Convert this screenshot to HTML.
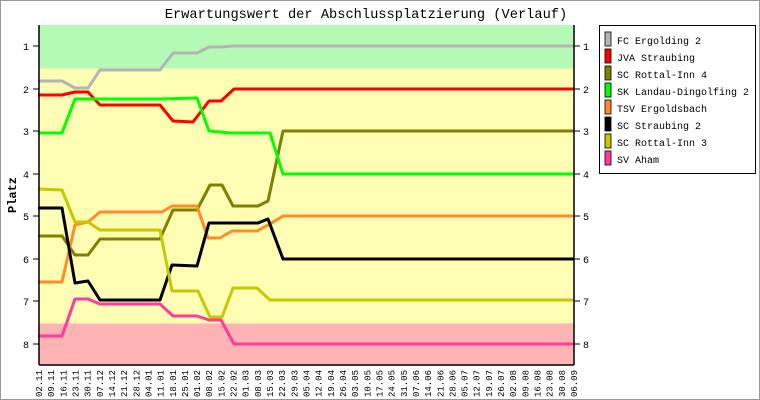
<!DOCTYPE html>
<html><head><meta charset="utf-8"><style>
html,body{margin:0;padding:0;background:#fff}
svg{display:block}
text{font-family:"Liberation Mono","DejaVu Sans Mono",monospace}
</style></head><body>
<svg width="760" height="400" viewBox="0 0 760 400">
<rect x="0.5" y="0.5" width="759" height="399" fill="#fff" stroke="#999"/>
<text x="366" y="18" font-size="13.7" text-anchor="middle">Erwartungswert der Abschlussplatzierung (Verlauf)</text>
<rect x="39" y="25" width="535" height="43.5" fill="#b4fab4"/>
<rect x="39" y="68.5" width="535" height="255" fill="#fdfdb4"/>
<rect x="39" y="323.5" width="535" height="41.5" fill="#feb4b4"/>
<g fill="none" stroke-width="3" stroke-linejoin="round">
<polyline stroke="#b4b4b4" points="38,81 62,81 75,88 88,88 100,70 160,70 173,53 197,53 209,47 221,47 233,46 574,46"/>
<polyline stroke="#ff0000" points="38,95 62,95 75,92 88,92 100,105 160,105 173,121 193,122 209,101 221,101 234,89 574,89"/>
<polyline stroke="#808000" points="38,236 62,236 75,255 88,255 100,239 160,239 173,210 197,210 210,185 222,185 233,206 258,206 268,201 283,131 574,131"/>
<polyline stroke="#00ff00" points="38,133 62,133 75,99 160,99 197,98 209,131 230,133 270,133 283,174 574,174"/>
<polyline stroke="#ff8c28" points="38,282 62,282 75,225 88,222 100,212 162,212 172,206 197,206 208,238 220,238 232,231 257,231 270,224 283,216 574,216"/>
<polyline stroke="#000000" points="38,208 62,208 75,283 88,281 100,300 160,300 172,265 197,266 209,223 258,223 268,219 283,259 574,259"/>
<polyline stroke="#c8c800" points="38,189 62,190 75,222 88,222 100,230 160,230 172,291 198,291 210,317 222,317 233,288 257,288 270,300 574,300"/>
<polyline stroke="#ff3c9c" points="38,336 62,336 75,299 88,299 100,304 160,304 173,316 197,316 209,320 221,320 234,344 574,344"/>
</g>
<g stroke="#000" stroke-width="1.5">
<line x1="39" y1="25" x2="39" y2="365"/><line x1="574" y1="25" x2="574" y2="365"/><line x1="39" y1="365" x2="574" y2="365"/>
</g>
<g stroke="#000" stroke-width="1">
<line x1="33" y1="46" x2="39" y2="46"/><line x1="33" y1="89" x2="39" y2="89"/><line x1="33" y1="131" x2="39" y2="131"/><line x1="33" y1="174" x2="39" y2="174"/><line x1="33" y1="216" x2="39" y2="216"/><line x1="33" y1="259" x2="39" y2="259"/><line x1="33" y1="301" x2="39" y2="301"/><line x1="33" y1="344" x2="39" y2="344"/>
<line x1="574" y1="46" x2="580" y2="46"/><line x1="574" y1="89" x2="580" y2="89"/><line x1="574" y1="131" x2="580" y2="131"/><line x1="574" y1="174" x2="580" y2="174"/><line x1="574" y1="216" x2="580" y2="216"/><line x1="574" y1="259" x2="580" y2="259"/><line x1="574" y1="301" x2="580" y2="301"/><line x1="574" y1="344" x2="580" y2="344"/>
</g>
<g font-size="10" text-anchor="middle">
<text x="26" y="50">1</text><text x="26" y="93">2</text><text x="26" y="135">3</text><text x="26" y="178">4</text><text x="26" y="220">5</text><text x="26" y="263">6</text><text x="26" y="305">7</text><text x="26" y="348">8</text>
<text x="586" y="50">1</text><text x="586" y="93">2</text><text x="586" y="135">3</text><text x="586" y="178">4</text><text x="586" y="220">5</text><text x="586" y="263">6</text><text x="586" y="305">7</text><text x="586" y="348">8</text>
</g>
<text transform="translate(16,195) rotate(-90)" font-size="12" font-weight="bold" text-anchor="middle">Platz</text>
<rect x="599.5" y="25.5" width="156" height="148" fill="#fff" stroke="#000"/>
<g stroke="#000" stroke-width="0.8">
<rect x="605" y="32" width="6" height="14" fill="#b4b4b4"/>
<rect x="605" y="49" width="6" height="14" fill="#ff0000"/>
<rect x="605" y="66" width="6" height="14" fill="#808000"/>
<rect x="605" y="83" width="6" height="14" fill="#00ff00"/>
<rect x="605" y="100" width="6" height="14" fill="#ff8c28"/>
<rect x="605" y="117" width="6" height="14" fill="#000000"/>
<rect x="605" y="134" width="6" height="14" fill="#c8c800"/>
<rect x="605" y="151" width="6" height="14" fill="#ff3c9c"/>
</g>
<g font-size="10">
<text x="617" y="44">FC Ergolding 2</text>
<text x="617" y="61">JVA Straubing</text>
<text x="617" y="78">SC Rottal-Inn 4</text>
<text x="617" y="95">SK Landau-Dingolfing 2</text>
<text x="617" y="112">TSV Ergoldsbach</text>
<text x="617" y="129">SC Straubing 2</text>
<text x="617" y="146">SC Rottal-Inn 3</text>
<text x="617" y="163">SV Aham</text>
</g>
<g font-size="9" text-anchor="end">
<text transform="translate(42.0,370) rotate(-90)">02.11</text>
<text transform="translate(54.2,370) rotate(-90)">09.11</text>
<text transform="translate(66.3,370) rotate(-90)">16.11</text>
<text transform="translate(78.5,370) rotate(-90)">23.11</text>
<text transform="translate(90.6,370) rotate(-90)">30.11</text>
<text transform="translate(102.8,370) rotate(-90)">07.12</text>
<text transform="translate(115.0,370) rotate(-90)">14.12</text>
<text transform="translate(127.1,370) rotate(-90)">21.12</text>
<text transform="translate(139.3,370) rotate(-90)">28.12</text>
<text transform="translate(151.4,370) rotate(-90)">04.01</text>
<text transform="translate(163.6,370) rotate(-90)">11.01</text>
<text transform="translate(175.8,370) rotate(-90)">18.01</text>
<text transform="translate(187.9,370) rotate(-90)">25.01</text>
<text transform="translate(200.1,370) rotate(-90)">01.02</text>
<text transform="translate(212.2,370) rotate(-90)">08.02</text>
<text transform="translate(224.4,370) rotate(-90)">15.02</text>
<text transform="translate(236.5,370) rotate(-90)">22.02</text>
<text transform="translate(248.7,370) rotate(-90)">01.03</text>
<text transform="translate(260.9,370) rotate(-90)">08.03</text>
<text transform="translate(273.0,370) rotate(-90)">15.03</text>
<text transform="translate(285.2,370) rotate(-90)">22.03</text>
<text transform="translate(297.3,370) rotate(-90)">29.03</text>
<text transform="translate(309.5,370) rotate(-90)">05.04</text>
<text transform="translate(321.7,370) rotate(-90)">12.04</text>
<text transform="translate(333.8,370) rotate(-90)">19.04</text>
<text transform="translate(346.0,370) rotate(-90)">26.04</text>
<text transform="translate(358.1,370) rotate(-90)">03.05</text>
<text transform="translate(370.3,370) rotate(-90)">10.05</text>
<text transform="translate(382.5,370) rotate(-90)">17.05</text>
<text transform="translate(394.6,370) rotate(-90)">24.05</text>
<text transform="translate(406.8,370) rotate(-90)">31.05</text>
<text transform="translate(418.9,370) rotate(-90)">07.06</text>
<text transform="translate(431.1,370) rotate(-90)">14.06</text>
<text transform="translate(443.3,370) rotate(-90)">21.06</text>
<text transform="translate(455.4,370) rotate(-90)">28.06</text>
<text transform="translate(467.6,370) rotate(-90)">05.07</text>
<text transform="translate(479.7,370) rotate(-90)">12.07</text>
<text transform="translate(491.9,370) rotate(-90)">19.07</text>
<text transform="translate(504.0,370) rotate(-90)">26.07</text>
<text transform="translate(516.2,370) rotate(-90)">02.08</text>
<text transform="translate(528.4,370) rotate(-90)">09.08</text>
<text transform="translate(540.5,370) rotate(-90)">16.08</text>
<text transform="translate(552.7,370) rotate(-90)">23.08</text>
<text transform="translate(564.8,370) rotate(-90)">30.08</text>
<text transform="translate(577.0,370) rotate(-90)">06.09</text>
</g>
</svg>
</body></html>
